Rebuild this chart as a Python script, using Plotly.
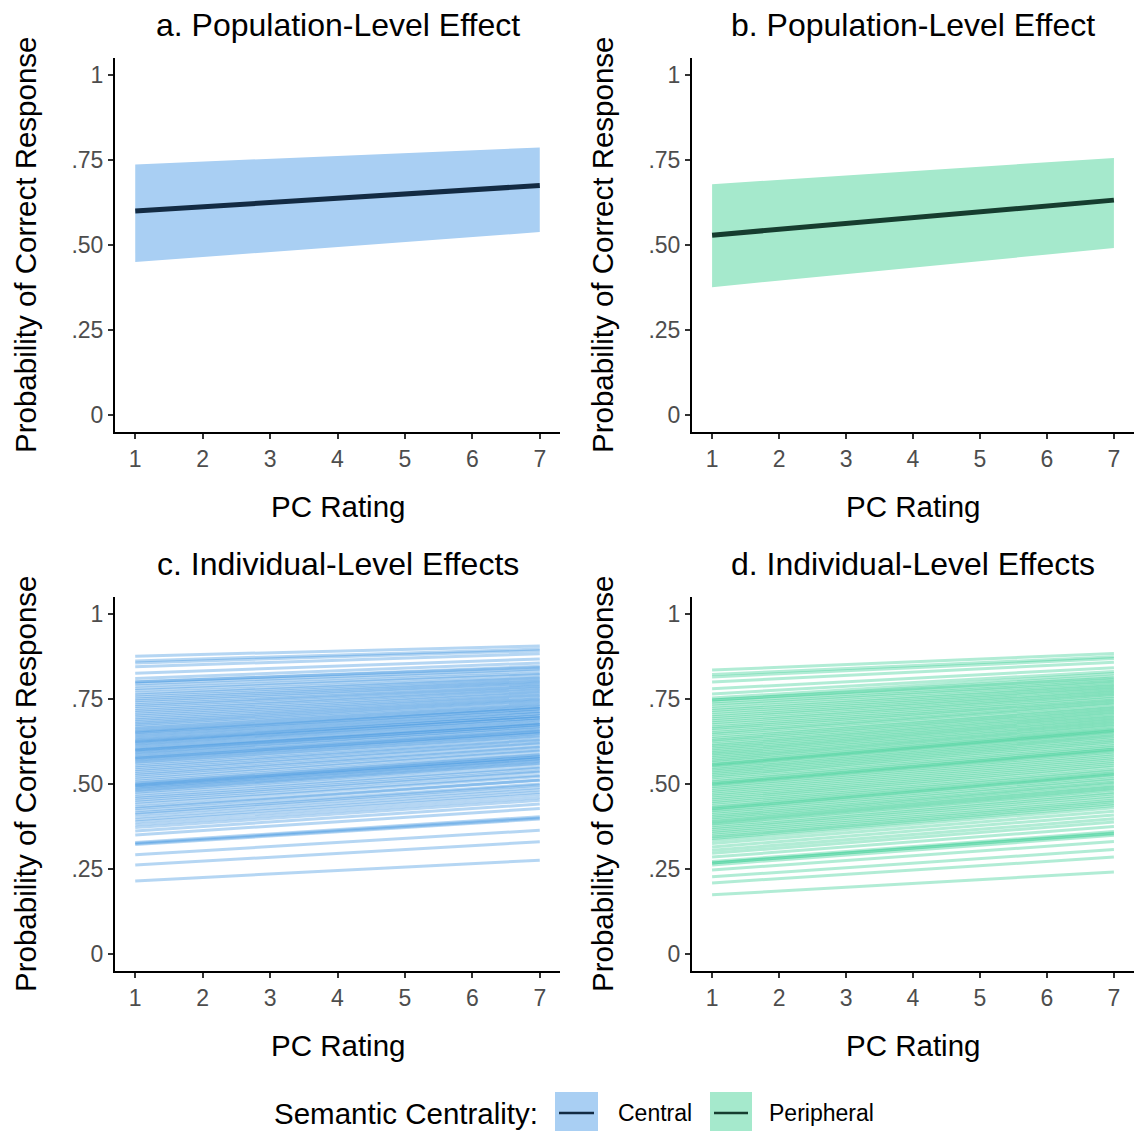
import plotly.graph_objects as go

W, H = 1135, 1131

# ---------------- data ----------------
pc_rating = [1, 7]

# population-level fits (central = a, peripheral = b)
central_fit = [0.600, 0.675]
central_lo = [0.450, 0.538]
central_hi = [0.737, 0.787]

peripheral_fit = [0.529, 0.632]
peripheral_lo = [0.376, 0.491]
peripheral_hi = [0.679, 0.756]

# individual-level fits: probability at PC rating 1 and at PC rating 7
central_ind_start = [
    0.215, 0.262, 0.292, 0.322, 0.325, 0.328, 0.350, 0.362, 0.372, 0.380, 0.388, 0.395, 0.402,
    0.410, 0.415, 0.421, 0.428, 0.432, 0.440, 0.446, 0.452, 0.458, 0.463, 0.470, 0.476, 0.480,
    0.484, 0.488, 0.491, 0.495, 0.497, 0.499, 0.503, 0.508, 0.514, 0.520, 0.526, 0.531, 0.537,
    0.542, 0.548, 0.553, 0.559, 0.564, 0.568, 0.572, 0.576, 0.577, 0.581, 0.586, 0.590, 0.594,
    0.598, 0.600, 0.602, 0.606, 0.611, 0.615, 0.619, 0.623, 0.625, 0.628, 0.632, 0.636, 0.641,
    0.645, 0.650, 0.652, 0.655, 0.660, 0.664, 0.669, 0.674, 0.679, 0.684, 0.689, 0.694, 0.700,
    0.705, 0.711, 0.716, 0.722, 0.728, 0.733, 0.739, 0.745, 0.750, 0.756, 0.762, 0.768, 0.775,
    0.781, 0.788, 0.795, 0.800, 0.801, 0.810, 0.826, 0.845, 0.856, 0.862, 0.876,
]
central_ind_end = [
    0.276, 0.330, 0.364, 0.397, 0.400, 0.404, 0.428, 0.441, 0.452, 0.460, 0.469, 0.476, 0.483,
    0.490, 0.497, 0.500, 0.511, 0.512, 0.522, 0.526, 0.535, 0.538, 0.546, 0.550, 0.559, 0.561,
    0.567, 0.569, 0.574, 0.576, 0.580, 0.580, 0.586, 0.588, 0.597, 0.600, 0.608, 0.610, 0.619,
    0.621, 0.629, 0.631, 0.639, 0.641, 0.648, 0.649, 0.655, 0.653, 0.659, 0.662, 0.668, 0.669,
    0.675, 0.674, 0.679, 0.680, 0.688, 0.688, 0.695, 0.695, 0.700, 0.700, 0.707, 0.707, 0.715,
    0.714, 0.722, 0.721, 0.726, 0.728, 0.734, 0.736, 0.743, 0.745, 0.751, 0.753, 0.760, 0.762,
    0.769, 0.771, 0.778, 0.780, 0.787, 0.788, 0.795, 0.797, 0.803, 0.805, 0.812, 0.814, 0.822,
    0.825, 0.833, 0.838, 0.846, 0.843, 0.856, 0.868, 0.883, 0.892, 0.897, 0.906,
]

peripheral_ind_start = [
    0.174, 0.209, 0.227, 0.247, 0.262, 0.268, 0.268, 0.272, 0.285, 0.296, 0.305, 0.315, 0.325,
    0.334, 0.340, 0.344, 0.349, 0.355, 0.360, 0.366, 0.371, 0.377, 0.382, 0.386, 0.390, 0.395,
    0.400, 0.405, 0.410, 0.416, 0.421, 0.426, 0.428, 0.432, 0.437, 0.443, 0.448, 0.454, 0.459,
    0.465, 0.470, 0.476, 0.481, 0.487, 0.492, 0.497, 0.500, 0.502, 0.507, 0.512, 0.518, 0.523,
    0.528, 0.533, 0.538, 0.543, 0.548, 0.553, 0.556, 0.558, 0.563, 0.568, 0.573, 0.578, 0.583,
    0.588, 0.593, 0.598, 0.603, 0.608, 0.613, 0.618, 0.624, 0.629, 0.634, 0.640, 0.646, 0.651,
    0.657, 0.663, 0.668, 0.674, 0.680, 0.686, 0.692, 0.698, 0.704, 0.710, 0.716, 0.722, 0.729,
    0.735, 0.741, 0.747, 0.747, 0.753, 0.765, 0.780, 0.800, 0.815, 0.822, 0.835,
]
peripheral_ind_end = [
    0.241, 0.285, 0.307, 0.331, 0.349, 0.356, 0.354, 0.360, 0.375, 0.388, 0.398, 0.409, 0.420,
    0.430, 0.437, 0.442, 0.448, 0.452, 0.459, 0.465, 0.471, 0.476, 0.483, 0.486, 0.492, 0.495,
    0.502, 0.505, 0.512, 0.516, 0.523, 0.527, 0.530, 0.533, 0.539, 0.543, 0.550, 0.555, 0.561,
    0.566, 0.572, 0.577, 0.583, 0.588, 0.594, 0.598, 0.602, 0.603, 0.609, 0.613, 0.619, 0.624,
    0.629, 0.634, 0.639, 0.643, 0.648, 0.652, 0.656, 0.657, 0.662, 0.665, 0.671, 0.674, 0.680,
    0.683, 0.689, 0.692, 0.698, 0.701, 0.707, 0.710, 0.716, 0.719, 0.725, 0.728, 0.735, 0.738,
    0.744, 0.747, 0.753, 0.757, 0.763, 0.766, 0.772, 0.775, 0.781, 0.784, 0.790, 0.793, 0.799,
    0.802, 0.808, 0.812, 0.818, 0.825, 0.831, 0.842, 0.858, 0.869, 0.874, 0.884,
]

x_ticks = [1, 2, 3, 4, 5, 6, 7]
y_ticks = [0, 0.25, 0.5, 0.75, 1]
y_tick_text = ["0", ".25", ".50", ".75", "1"]

panel_titles = ["a. Population-Level Effect", "b. Population-Level Effect",
                "c. Individual-Level Effects", "d. Individual-Level Effects"]
x_title = "PC Rating"
y_title = "Probability of Correct Response"
legend_title = "Semantic Centrality:"
legend_labels = ["Central", "Peripheral"]

# ---------------- styling ----------------
FONT = "Liberation Sans, Arial, sans-serif"
BLUE_RIBBON = "#A9CFF3"
BLUE_LINE = "#132B43"
BLUE_IND = "rgba(71,153,224,0.40)"
GREEN_RIBBON = "#A5E9CC"
GREEN_LINE = "#163D2F"
GREEN_IND = "rgba(60,207,150,0.40)"
IND_WIDTH = 3.0


def px(xp):
    return xp / W


def py(yp):
    return 1 - yp / H


# pixel boxes of the four plotting areas: (left, right, top, bottom)
boxes = [(115, 560, 58, 432), (692, 1134, 58, 432),
         (115, 560, 597, 971), (692, 1134, 597, 971)]

fig = go.Figure()


def ribbon(ax, lo, hi, fill, fit, line_color):
    fig.add_trace(go.Scatter(
        x=pc_rating + pc_rating[::-1], y=lo + hi[::-1],
        fill="toself", fillcolor=fill, line=dict(width=0),
        mode="lines", hoverinfo="skip", showlegend=False,
        xaxis="x" + ax, yaxis="y" + ax))
    fig.add_trace(go.Scatter(
        x=pc_rating, y=fit, mode="lines",
        line=dict(color=line_color, width=5),
        hoverinfo="skip", showlegend=False,
        xaxis="x" + ax, yaxis="y" + ax))


ribbon("", central_lo, central_hi, BLUE_RIBBON, central_fit, BLUE_LINE)
ribbon("2", peripheral_lo, peripheral_hi, GREEN_RIBBON, peripheral_fit, GREEN_LINE)

for s, e in zip(central_ind_start, central_ind_end):
    fig.add_trace(go.Scatter(x=pc_rating, y=[s, e], mode="lines",
                             line=dict(color=BLUE_IND, width=IND_WIDTH),
                             hoverinfo="skip", showlegend=False,
                             xaxis="x3", yaxis="y3"))
for s, e in zip(peripheral_ind_start, peripheral_ind_end):
    fig.add_trace(go.Scatter(x=pc_rating, y=[s, e], mode="lines",
                             line=dict(color=GREEN_IND, width=IND_WIDTH),
                             hoverinfo="skip", showlegend=False,
                             xaxis="x4", yaxis="y4"))

layout = dict(
    width=W, height=H,
    margin=dict(l=0, r=0, t=0, b=0),
    paper_bgcolor="white", plot_bgcolor="white",
    font=dict(family=FONT, color="black"),
    showlegend=False,
)

axis_common = dict(showgrid=False, zeroline=False, showline=True,
                   linecolor="black", linewidth=2,
                   ticks="outside", ticklen=5, tickwidth=1.5, tickcolor="#333333",
                   tickfont=dict(family=FONT, size=23, color="#4D4D4D"))

annotations = []
for i, (l, r, t, b) in enumerate(boxes):
    sfx = "" if i == 0 else str(i + 1)
    layout["xaxis" + sfx] = dict(axis_common, domain=[px(l), px(r)],
                                 range=[0.7, 7.3], tickvals=x_ticks,
                                 anchor="y" + sfx)
    layout["yaxis" + sfx] = dict(axis_common, domain=[py(b), py(t)],
                                 range=[-0.05, 1.05], tickvals=y_ticks,
                                 ticktext=y_tick_text, anchor="x" + sfx)
    annotations.append(dict(text=panel_titles[i], x=px((l + r) / 2), y=py(t - 33),
                            xref="paper", yref="paper", showarrow=False,
                            xanchor="center", yanchor="middle",
                            font=dict(family=FONT, size=32, color="black")))
    annotations.append(dict(text=x_title, x=px((l + r) / 2), y=py(b + 74),
                            xref="paper", yref="paper", showarrow=False,
                            xanchor="center", yanchor="middle",
                            font=dict(family=FONT, size=29.5, color="black")))
    annotations.append(dict(text=y_title, x=px(l - 90), y=py((t + b) / 2),
                            xref="paper", yref="paper", showarrow=False,
                            textangle=-90, xanchor="center", yanchor="middle",
                            font=dict(family=FONT, size=29.5, color="black")))

# legend drawn as keys + labels along the bottom
annotations.append(dict(text=legend_title, x=px(540), y=py(1113),
                        xref="paper", yref="paper", showarrow=False,
                        xanchor="right", yanchor="middle",
                        font=dict(family=FONT, size=29.5, color="black")))
annotations.append(dict(text=legend_labels[0], x=px(616), y=py(1113),
                        xref="paper", yref="paper", showarrow=False,
                        xanchor="left", yanchor="middle",
                        font=dict(family=FONT, size=23, color="black")))
annotations.append(dict(text=legend_labels[1], x=px(767), y=py(1113),
                        xref="paper", yref="paper", showarrow=False,
                        xanchor="left", yanchor="middle",
                        font=dict(family=FONT, size=23, color="black")))

shapes = []
for (x0, x1, fill, ln) in [(555, 598, BLUE_RIBBON, BLUE_LINE),
                           (710, 752, GREEN_RIBBON, GREEN_LINE)]:
    shapes.append(dict(type="rect", xref="paper", yref="paper",
                       x0=px(x0), x1=px(x1), y0=py(1131), y1=py(1092),
                       fillcolor=fill, line=dict(width=0), layer="below"))
    shapes.append(dict(type="line", xref="paper", yref="paper",
                       x0=px(x0 + 4), x1=px(x1 - 4), y0=py(1113), y1=py(1113),
                       line=dict(color=ln, width=2.5)))

layout["annotations"] = annotations
layout["shapes"] = shapes
fig.update_layout(**layout)

fig.write_html("out.html")
